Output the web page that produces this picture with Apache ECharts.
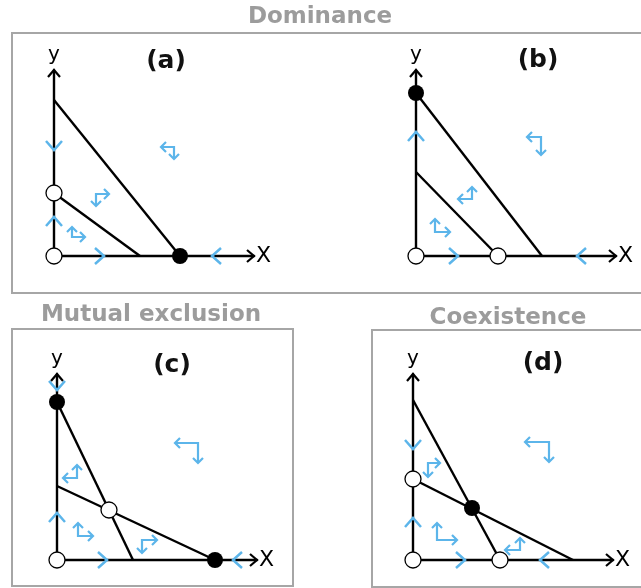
<!DOCTYPE html>
<html>
<head>
<meta charset="utf-8">
<script src="https://cdn.jsdelivr.net/npm/echarts@6/dist/echarts.min.js"></script>
<style>
  html, body { margin: 0; padding: 0; background: #fff; }
  #chart { width: 641px; height: 588px; }
</style>
</head>
<body>
<div id="chart"></div>
<script>
// Phase planes of two competing populations (x, y) with their zero-growth lines.
// Each line is given by its intercepts: [x-intercept, y-intercept].
const labelsPanel = ['(a)', '(b)', '(c)', '(d)'];
const groupTitles = ['Dominance', 'Mutual exclusion', 'Coexistence'];

const linesA = [[6.3, 7.8], [4.3, 3.15]];
const linesB = [[6.3, 8.15], [4.1, 4.2]];
const linesC = [[3.8, 7.9], [7.9, 3.7]];
const linesD = [[4.35, 8.0], [8.0, 4.05]];

// Equilibria: unstable (open) and stable (filled)
const unstableA = [[0, 0], [0, 3.15]];
const stableA = [[6.3, 0]];
const unstableB = [[0, 0], [4.1, 0]];
const stableB = [[0, 8.15]];
const unstableC = [[0, 0], [2.6, 2.5]];
const stableC = [[0, 7.9], [7.9, 0]];
const unstableD = [[0, 0], [0, 4.05], [4.35, 0]];
const stableD = [[2.95, 2.6]];

// Flow direction along the axes: [x, y, dirX, dirY]
const axisFlowA = [[0, 5.3, 0, -1], [0, 1.95, 0, 1], [2.5, 0, 1, 0], [7.9, 0, -1, 0]];
const axisFlowB = [[0, 6.2, 0, 1], [2.1, 0, 1, 0], [8.05, 0, -1, 0]];
const axisFlowC = [[0, 8.5, 0, -1], [0, 2.35, 0, 1], [2.5, 0, 1, 0], [8.8, 0, -1, 0]];
const axisFlowD = [[0, 5.55, 0, -1], [0, 2.1, 0, 1], [2.6, 0, 1, 0], [6.35, 0, -1, 0]];

// Flow inside each region: [x, y, dx, dy] (horizontal and vertical components)
const regionFlowA = [[6.0, 5.45, -0.65, -0.6], [2.1, 3.1, 0.65, -0.6], [0.9, 0.95, 0.65, 0.5]];
const regionFlowB = [[6.25, 5.95, -0.7, -0.9], [2.8, 2.85, -0.7, 0.6], [0.95, 1.2, 0.75, 0.65]];
const regionFlowC = [[7.05, 5.85, -1.15, -1.0], [1.0, 4.1, -0.7, 0.65], [1.05, 1.2, 0.75, 0.65], [4.25, 1.0, 0.75, -0.65]];
const regionFlowD = [[6.8, 5.9, -1.2, -1.0], [0.75, 4.85, 0.6, -0.7], [1.2, 1.0, 1.0, 0.85], [5.35, 0.5, -0.75, 0.6]];

const X_MAX = 10, Y_MAX = 9.3;

const panels = [
  { lines: linesA, open: unstableA, filled: stableA, axisFlow: axisFlowA, regionFlow: regionFlowA },
  { lines: linesB, open: unstableB, filled: stableB, axisFlow: axisFlowB, regionFlow: regionFlowB },
  { lines: linesC, open: unstableC, filled: stableC, axisFlow: axisFlowC, regionFlow: regionFlowC },
  { lines: linesD, open: unstableD, filled: stableD, axisFlow: axisFlowD, regionFlow: regionFlowD }
];

const FONT = 'DejaVu Sans';
const FLOW = '#5cb5ea';
const FRAME = '#a6a6a6';
const TITLE = '#9c9c9c';

// layout of each plotting area (origin at bottom-left)
const gridBoxes = [
  { left: 54, top: 70 },
  { left: 416, top: 70 },
  { left: 57, top: 374 },
  { left: 413, top: 374 }
];

function chevronPts(p, ux, uy, depth, half) {
  const bx = p[0] - ux * depth, by = p[1] - uy * depth;
  const nx = -uy, ny = ux;
  return [[bx + nx * half, by + ny * half], [p[0], p[1]], [bx - nx * half, by - ny * half]];
}

function chevronSeries(idx, data, color, depth, half, width, z) {
  return {
    type: 'custom', xAxisIndex: idx, yAxisIndex: idx, silent: true, z: z,
    encode: { x: 0, y: 1 },
    data: data,
    renderItem: function (params, api) {
      const p = api.coord([api.value(0), api.value(1)]);
      let ux = api.value(2), uy = -api.value(3);
      const n = Math.hypot(ux, uy) || 1;
      ux /= n; uy /= n;
      return {
        type: 'polyline',
        shape: { points: chevronPts(p, ux, uy, depth, half) },
        style: { stroke: color, lineWidth: width, fill: null, lineJoin: 'miter' }
      };
    }
  };
}

function stepArrowSeries(idx, data) {
  return {
    type: 'custom', xAxisIndex: idx, yAxisIndex: idx, silent: true, z: 6,
    encode: { x: 0, y: 1 },
    data: data,
    renderItem: function (params, api) {
      const x = api.value(0), y = api.value(1), dx = api.value(2), dy = api.value(3);
      const c = api.coord([x, y]);
      const h = api.coord([x + dx, y]);
      const v = api.coord([x, y + dy]);
      const st = { stroke: FLOW, lineWidth: 2.2, fill: null };
      return {
        type: 'group',
        children: [
          { type: 'polyline', shape: { points: [h, c, v] }, style: st },
          { type: 'polyline', shape: { points: chevronPts(h, Math.sign(dx), 0, 5, 5) }, style: st },
          { type: 'polyline', shape: { points: chevronPts(v, 0, -Math.sign(dy), 5, 5) }, style: st }
        ]
      };
    }
  };
}

const grid = [], xAxis = [], yAxis = [], series = [];

panels.forEach(function (pn, i) {
  grid.push({ left: gridBoxes[i].left, top: gridBoxes[i].top, width: 200, height: 186,
              containLabel: false, outerBoundsMode: 'none' });
  xAxis.push({
    type: 'value', gridIndex: i, min: 0, max: X_MAX,
    axisLine: { show: true, onZero: false, lineStyle: { color: '#000', width: 2.4 } },
    axisTick: { show: false }, axisLabel: { show: false }, splitLine: { show: false },
    name: 'X', nameLocation: 'end', nameGap: 2,
    nameTextStyle: { fontFamily: FONT, fontSize: 22, color: '#000', verticalAlign: 'middle', align: 'left' }
  });
  yAxis.push({
    type: 'value', gridIndex: i, min: 0, max: Y_MAX,
    axisLine: { show: true, onZero: false, lineStyle: { color: '#000', width: 2.4 } },
    axisTick: { show: false }, axisLabel: { show: false }, splitLine: { show: false },
    name: 'y', nameLocation: 'end', nameGap: 5,
    nameTextStyle: { fontFamily: FONT, fontSize: 20, color: '#000', align: 'center' }
  });

  pn.lines.forEach(function (ln) {
    series.push({
      type: 'line', xAxisIndex: i, yAxisIndex: i, silent: true, z: 3,
      data: [[0, ln[1]], [ln[0], 0]],
      showSymbol: false, symbol: 'none',
      lineStyle: { color: '#000', width: 2.4 }
    });
  });

  // black arrowheads at the ends of both axes
  series.push(chevronSeries(i, [[X_MAX, 0, 1, 0], [0, Y_MAX, 0, 1]], '#000', 7, 6, 2.2, 4));
  series.push(chevronSeries(i, pn.axisFlow, FLOW, 9, 8, 2.5, 6));
  series.push(stepArrowSeries(i, pn.regionFlow));

  series.push({
    type: 'scatter', xAxisIndex: i, yAxisIndex: i, silent: true, z: 8,
    data: pn.open, symbol: 'circle', symbolSize: 16,
    itemStyle: { color: '#fff', borderColor: '#000', borderWidth: 1.3, opacity: 1 }
  });
  series.push({
    type: 'scatter', xAxisIndex: i, yAxisIndex: i, silent: true, z: 8,
    data: pn.filled, symbol: 'circle', symbolSize: 16,
    itemStyle: { color: '#000', borderColor: '#000', borderWidth: 0, opacity: 1 }
  });
});

const titleFont = 'bold 23px "' + FONT + '"';
const labelFont = 'bold 25px "' + FONT + '"';
const labelPos = [[166, 61], [538, 60], [172, 365], [543, 363]];
const titlePos = [[320, 17], [151, 315], [508, 318]];

const graphic = [
  { type: 'rect', shape: { x: 12, y: 33, width: 640, height: 260 }, style: { fill: null, stroke: FRAME, lineWidth: 2 }, z: 0 },
  { type: 'rect', shape: { x: 12, y: 329, width: 281, height: 257 }, style: { fill: null, stroke: FRAME, lineWidth: 2 }, z: 0 },
  { type: 'rect', shape: { x: 372, y: 330, width: 280, height: 257 }, style: { fill: null, stroke: FRAME, lineWidth: 2 }, z: 0 }
];
groupTitles.forEach(function (t, k) {
  graphic.push({ type: 'text', x: titlePos[k][0], y: titlePos[k][1], z: 10,
    style: { text: t, font: titleFont, fill: TITLE, align: 'center', verticalAlign: 'middle' } });
});
labelsPanel.forEach(function (t, k) {
  graphic.push({ type: 'text', x: labelPos[k][0], y: labelPos[k][1], z: 10,
    style: { text: t, font: labelFont, fill: '#111', align: 'center', verticalAlign: 'middle' } });
});

const chart = echarts.init(document.getElementById('chart'), null, { renderer: 'canvas' });
chart.setOption({
  backgroundColor: '#fff',
  animation: false,
  grid: grid, xAxis: xAxis, yAxis: yAxis,
  series: series,
  graphic: graphic
});
</script>
</body>
</html>
